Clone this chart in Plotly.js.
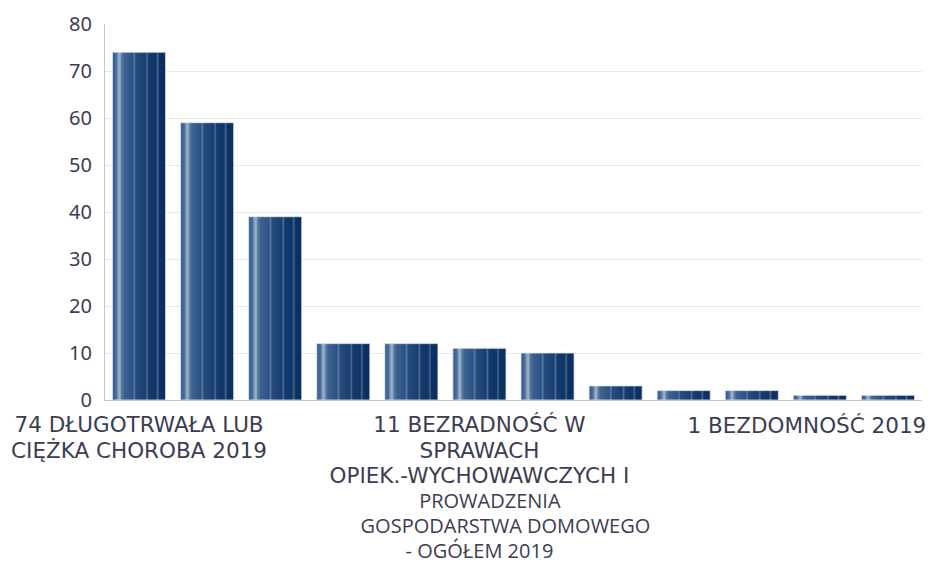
<!DOCTYPE html>
<html>
<head>
<meta charset="utf-8">
<script src="https://cdn.plot.ly/plotly-3.0.1.min.js"></script>
<style>
  html, body { margin: 0; padding: 0; background: #ffffff; }
  #chart { width: 940px; height: 567px; }
</style>
</head>
<body>
<div id="chart"></div>
<script>
// ---- data ----
const barIndex = [0, 1, 2, 3, 4, 5, 6, 7, 8, 9, 10, 11];
const values   = [74, 59, 39, 12, 12, 11, 10, 3, 2, 2, 1, 1];
const tickPositions = [0, 5];
const tickPositionsEnd = [10];
const upper = 'font-family:\'DejaVu Sans\';font-size:21.5px';
const lower = 'font-family:\'Open Sans\';font-size:20px';
const tickLabels = [
  '<span style="' + upper + '">74 DŁUGOTRWAŁA LUB</span><br>' +
    '<span style="' + upper + '">CIĘŻKA CHOROBA 2019</span>',
  '<span style="' + upper + '">11 BEZRADNOŚĆ W</span><br>' +
    '<span style="' + upper + '">SPRAWACH</span><br>' +
    '<span style="' + upper + '">OPIEK.-WYCHOWAWCZYCH I</span><br>' +
    '<span style="' + lower + '">&nbsp;&nbsp;&nbsp;&nbsp;PROWADZENIA</span><br>' +
    '<span style="' + lower + '">&nbsp;&nbsp;&nbsp;&nbsp;&nbsp;&nbsp;&nbsp;&nbsp;&nbsp;&nbsp;GOSPODARSTWA DOMOWEGO</span><br>' +
    '<span style="' + lower + '">- OGÓŁEM 2019</span>'
];
const tickLabelsEnd = [
  '<span style="' + upper + '">1 BEZDOMNOŚĆ 2019</span>'
];
const yTicks = [0, 10, 20, 30, 40, 50, 60, 70, 80];

const textColor = '#3b3d52';

const trace = {
  type: 'bar',
  x: barIndex,
  y: values,
  marker: {
    color: '#1d426f',
    line: { color: 'rgba(225,230,240,0.8)', width: 1 }
  },
  hoverinfo: 'y'
};

// invisible companion trace so the second (label-only) x axis is drawn
const labelCarrier = {
  type: 'scatter',
  mode: 'markers',
  x: barIndex,
  y: values,
  xaxis: 'x2',
  yaxis: 'y',
  marker: { opacity: 0, size: 1 },
  hoverinfo: 'skip'
};

const xCommon = {
  range: [-0.5, 11.5],
  tickmode: 'array',
  tickangle: 0,
  ticks: '',
  showgrid: false,
  zeroline: false,
  ticklabelstandoff: 8,
  ticklabeloverflow: 'allow',
  tickfont: { family: 'Noto Sans, sans-serif', size: 19.4, color: textColor },
  automargin: false
};

const layout = {
  width: 940,
  height: 567,
  margin: { l: 105, r: 18, t: 24, b: 167 },
  paper_bgcolor: '#ffffff',
  plot_bgcolor: '#ffffff',
  showlegend: false,
  bargap: 0.22,
  font: { family: 'Noto Sans, sans-serif', color: textColor },
  xaxis: Object.assign({}, xCommon, {
    tickvals: tickPositions,
    ticktext: tickLabels,
    showline: true,
    linecolor: '#c6c6da',
    linewidth: 1
  }),
  xaxis2: Object.assign({}, xCommon, {
    tickvals: tickPositionsEnd,
    ticktext: tickLabelsEnd,
    overlaying: 'x',
    anchor: 'y',
    side: 'bottom',
    showline: false,
    ticklabelstandoff: 13,
    ticklabelshift: -13
  }),
  yaxis: {
    range: [0, 80],
    tickmode: 'array',
    tickvals: yTicks,
    ticks: '',
    showgrid: true,
    gridcolor: '#e9e9f1',
    gridwidth: 1,
    zeroline: false,
    showline: true,
    linecolor: '#c6c6da',
    linewidth: 1,
    ticklabelstandoff: 8,
    tickfont: { family: 'Noto Sans, sans-serif', size: 20, color: textColor },
    automargin: false
  }
};

function applyGradient(gd) {
  const svg = gd.querySelector('svg.main-svg');
  if (!svg) return;
  let defs = svg.querySelector('defs');
  if (!defs) {
    defs = document.createElementNS('http://www.w3.org/2000/svg', 'defs');
    svg.insertBefore(defs, svg.firstChild);
  }
  if (!svg.querySelector('#barGrad')) {
    const g = document.createElementNS('http://www.w3.org/2000/svg', 'linearGradient');
    g.setAttribute('id', 'barGrad');
    g.setAttribute('x1', '0'); g.setAttribute('y1', '0');
    g.setAttribute('x2', '1'); g.setAttribute('y2', '0');
    const stops = [
      [0.00, '#33598a'], [0.07, '#486d99'], [0.11, '#8aa3c0'], [0.14, '#9db3cc'],
      [0.17, '#5b7ca4'], [0.22, '#3e6290'], [0.38, '#2a5384'], [0.41, '#5a79a1'],
      [0.44, '#264c7d'], [0.62, '#173f70'], [0.65, '#4e6e97'], [0.68, '#143b6b'],
      [0.82, '#0f3566'], [0.85, '#4a6891'], [0.88, '#0c3263'], [1.00, '#0a2f5e']
    ];
    stops.forEach(function (s) {
      const st = document.createElementNS('http://www.w3.org/2000/svg', 'stop');
      st.setAttribute('offset', s[0]);
      st.setAttribute('stop-color', s[1]);
      g.appendChild(st);
    });
    defs.appendChild(g);
  }
  gd.querySelectorAll('.barlayer .point path').forEach(function (p) {
    p.style.fill = 'url(#barGrad)';
  });
}

Plotly.newPlot('chart', [trace, labelCarrier], layout, { displayModeBar: false, staticPlot: true })
  .then(function (gd) { applyGradient(gd); });
</script>
</body>
</html>
